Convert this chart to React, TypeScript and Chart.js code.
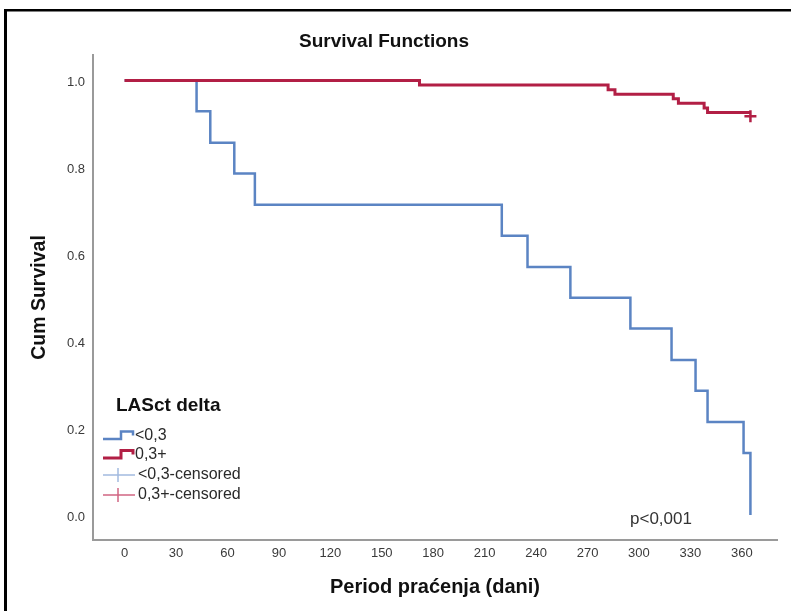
import React, { useEffect, useRef } from 'react';
import { Chart, registerables } from 'chart.js';

Chart.register(...registerables);

const chartTitle = 'Survival Functions';
const xAxisTitle = 'Period praćenja (dani)';
const yAxisTitle = 'Cum Survival';
const legendTitle = 'LASct delta';
const pValueText = 'p<0,001';

const xTicks = [0, 30, 60, 90, 120, 150, 180, 210, 240, 270, 300, 330, 360];
const yTicks = [0, 0.2, 0.4, 0.6, 0.8, 1.0];

const seriesLabels = ['<0,3', '0,3+', '<0,3-censored', '0,3+-censored'];

// group <0,3
const lowDays = [0, 42, 50, 64, 76, 220, 235, 260, 295, 319, 333, 340, 361, 365];
const lowSurv = [1, 0.929, 0.857, 0.786, 0.714, 0.643, 0.571, 0.5, 0.429, 0.357, 0.286, 0.214, 0.143, 0];

// group 0,3+
const highDays = [0, 172, 282, 286, 320, 323, 338, 340, 365];
const highSurv = [1, 0.9895, 0.979, 0.9685, 0.958, 0.9475, 0.937, 0.9265, 0.9265];

// censored marks
const lowCensDays: number[] = [];
const lowCensSurv: number[] = [];
const highCensDays = [365];
const highCensSurv = [0.918];

const FONT = '"Liberation Sans", Arial, Helvetica, sans-serif';
const BLUE = '#5b84c3';
const RED = '#b21f45';
const BLUE_LIGHT = '#a3badf';
const RED_LIGHT = '#d16582';

const toPts = (xs: number[], ys: number[]) => xs.map((x, i) => ({ x, y: ys[i] }));

const decorPlugin = {
  id: 'decor',
  beforeDraw(chart: any) {
    const ctx = chart.ctx;
    ctx.save();
    ctx.fillStyle = '#ffffff';
    ctx.fillRect(0, 0, chart.width, chart.height);
    ctx.fillStyle = '#000000';
    ctx.fillRect(4, 9, chart.width - 4, 2.5);
    ctx.fillRect(4, 9, 3, chart.height - 9);
    ctx.restore();
  },
  afterDraw(chart: any) {
    const ctx = chart.ctx;
    const a = chart.chartArea;
    ctx.save();
    // main title
    ctx.font = `bold 19px ${FONT}`;
    ctx.fillStyle = '#111111';
    ctx.textAlign = 'center';
    ctx.textBaseline = 'middle';
    ctx.fillText(chartTitle, 384, 42);

    // legend
    ctx.textAlign = 'left';
    ctx.font = `bold 19px ${FONT}`;
    ctx.fillText(legendTitle, a.left + 23, a.bottom - 134);

    const ds = chart.data.datasets;
    const rowsY = [a.bottom - 104, a.bottom - 85, a.bottom - 65, a.bottom - 45];
    const x0 = a.left + 10;
    const icons = [
      { kind: 'step', color: BLUE, w: 2.5 },
      { kind: 'step', color: RED, w: 3 },
      { kind: 'cens', color: BLUE_LIGHT, w: 1.5 },
      { kind: 'cens', color: RED_LIGHT, w: 1.5 },
    ];
    ds.forEach((d: any, i: number) => {
      const y = rowsY[i];
      const ic = icons[i];
      ctx.strokeStyle = ic.color;
      ctx.lineWidth = ic.w;
      ctx.beginPath();
      if (ic.kind === 'step') {
        ctx.moveTo(x0, y + 3);
        ctx.lineTo(x0 + 18, y + 3);
        ctx.lineTo(x0 + 18, y - 4.5);
        ctx.lineTo(x0 + 30, y - 4.5);
        ctx.lineTo(x0 + 30, y - 0.5);
      } else {
        ctx.moveTo(x0, y);
        ctx.lineTo(x0 + 32, y);
        ctx.moveTo(x0 + 15, y - 7);
        ctx.lineTo(x0 + 15, y + 7);
      }
      ctx.stroke();
      ctx.font = `16px ${FONT}`;
      ctx.fillStyle = '#2a2a2a';
      ctx.fillText(d.label, ic.kind === 'step' ? x0 + 32 : x0 + 35, y);
    });

    // p-value
    ctx.font = `17px ${FONT}`;
    ctx.fillStyle = '#333333';
    ctx.fillText(pValueText, a.right - 147, a.bottom - 21);
    ctx.restore();
  },
};

export default function App() {
  const ref = useRef<HTMLCanvasElement | null>(null);

  useEffect(() => {
    if (!ref.current) return;
    const chart = new Chart(ref.current, {
      type: 'line',
      data: {
        datasets: [
          {
            label: seriesLabels[0],
            data: toPts(lowDays, lowSurv),
            borderColor: BLUE,
            borderWidth: 2.5,
            stepped: 'before',
            pointRadius: 0,
            fill: false,
            order: 2,
          },
          {
            label: seriesLabels[1],
            data: toPts(highDays, highSurv),
            borderColor: RED,
            borderWidth: 3,
            stepped: 'before',
            pointRadius: 0,
            fill: false,
            order: 1,
          },
          {
            label: seriesLabels[2],
            data: toPts(lowCensDays, lowCensSurv),
            showLine: false,
            pointStyle: 'cross',
            pointRadius: 6,
            pointBorderWidth: 2.5,
            pointBorderColor: BLUE,
            borderColor: BLUE,
            order: 0,
          },
          {
            label: seriesLabels[3],
            data: toPts(highCensDays, highCensSurv),
            showLine: false,
            pointStyle: 'cross',
            pointRadius: 6,
            pointBorderWidth: 2.5,
            pointBorderColor: RED,
            borderColor: RED,
            order: 0,
          },
        ],
      } as any,
      options: {
        animation: false,
        responsive: false,
        maintainAspectRatio: false,
        layout: { padding: { top: 55, right: 14, left: 0, bottom: 0 } },
        plugins: {
          legend: { display: false },
          title: { display: false },
          tooltip: { enabled: false },
        },
        scales: {
          x: {
            type: 'linear',
            min: -18.4,
            max: 380.5,
            grid: { display: false, drawTicks: false },
            border: { display: true, color: '#9a9a9a', width: 2 },
            ticks: {
              padding: 6,
              autoSkip: false,
              maxRotation: 0,
              color: '#3a3a3a',
              font: { family: FONT, size: 13 },
              callback: (v: any) => String(v),
            },
            afterBuildTicks: (s: any) => {
              s.ticks = xTicks.map((v) => ({ value: v }));
            },
            afterFit: (s: any) => {
              s.height = 71;
            },
            title: {
              display: true,
              text: xAxisTitle,
              color: '#111111',
              font: { family: FONT, size: 20, weight: 'bold' },
              padding: { top: 0, bottom: 12 },
            },
          },
          y: {
            type: 'linear',
            min: -0.0575,
            max: 1.0587,
            grid: { display: false, drawTicks: false },
            border: { display: true, color: '#9a9a9a', width: 2 },
            ticks: {
              padding: 8,
              labelOffset: 2,
              autoSkip: false,
              color: '#3a3a3a',
              font: { family: FONT, size: 13 },
              callback: (v: any) => Number(v).toFixed(1),
            },
            afterBuildTicks: (s: any) => {
              s.ticks = yTicks.map((v) => ({ value: v }));
            },
            afterFit: (s: any) => {
              s.width = 93;
            },
            title: {
              display: true,
              text: yAxisTitle,
              color: '#111111',
              font: { family: FONT, size: 19.5, weight: 'bold' },
              padding: { top: 28.3, bottom: 0 },
            },
          },
        },
      } as any,
      plugins: [decorPlugin as any],
    });
    return () => chart.destroy();
  }, []);

  return (
    <div style={{ position: 'absolute', left: 0, top: 0, width: 791, height: 611, overflow: 'hidden' }}>
      <canvas ref={ref} width={791} height={611} style={{ display: 'block', width: 791, height: 611 }} />
    </div>
  );
}
